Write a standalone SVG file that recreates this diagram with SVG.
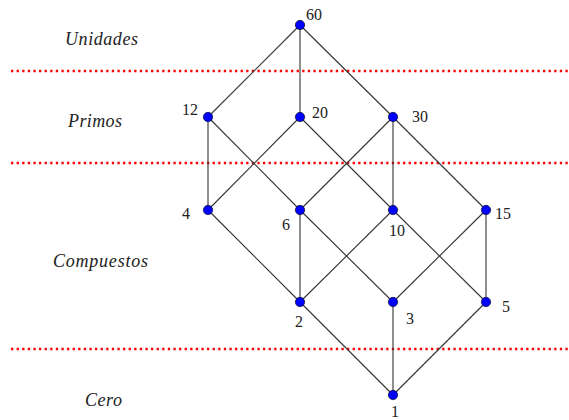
<svg xmlns="http://www.w3.org/2000/svg" width="569" height="420" viewBox="0 0 569 420">
<style>
.sep{stroke:#ff0000;stroke-width:2.3;stroke-dasharray:2.3 3.3;fill:none}
.e{stroke:#333;stroke-width:1.1;fill:none}
.n{fill:#0000ff;stroke:#000;stroke-width:0.6}
.lab{font-family:"Liberation Serif","Times New Roman",serif;font-size:16px;fill:#222}
.cat{font-family:"Liberation Serif","Times New Roman",serif;font-style:italic;font-size:18px;fill:#222}
</style>
<rect width="569" height="420" fill="#fff"/>
<g id="separators">
<line class="sep" x1="11" y1="71" x2="569" y2="71"/>
<line class="sep" x1="11" y1="163" x2="569" y2="163"/>
<line class="sep" x1="11" y1="349" x2="569" y2="349"/>
</g>
<g id="categories">
<text class="cat" x="65" y="45" textLength="73" lengthAdjust="spacing">Unidades</text>
<text class="cat" x="68" y="127" textLength="54" lengthAdjust="spacing">Primos</text>
<text class="cat" x="53" y="267" textLength="95" lengthAdjust="spacing">Compuestos</text>
<text class="cat" x="85" y="406" textLength="37" lengthAdjust="spacing">Cero</text>
</g>
<g id="connectors">
<line class="e" x1="300" y1="25" x2="208" y2="117"/>
<line class="e" x1="300" y1="25" x2="300" y2="117"/>
<line class="e" x1="300" y1="25" x2="393" y2="117"/>
<line class="e" x1="208" y1="117" x2="208" y2="210"/>
<line class="e" x1="208" y1="117" x2="300" y2="210"/>
<line class="e" x1="300" y1="117" x2="208" y2="210"/>
<line class="e" x1="300" y1="117" x2="393" y2="210"/>
<line class="e" x1="393" y1="117" x2="300" y2="210"/>
<line class="e" x1="393" y1="117" x2="393" y2="210"/>
<line class="e" x1="393" y1="117" x2="486" y2="210"/>
<line class="e" x1="208" y1="210" x2="300" y2="302"/>
<line class="e" x1="300" y1="210" x2="300" y2="302"/>
<line class="e" x1="300" y1="210" x2="393" y2="302"/>
<line class="e" x1="393" y1="210" x2="300" y2="302"/>
<line class="e" x1="393" y1="210" x2="486" y2="302"/>
<line class="e" x1="486" y1="210" x2="393" y2="302"/>
<line class="e" x1="486" y1="210" x2="486" y2="302"/>
<line class="e" x1="300" y1="302" x2="393" y2="395"/>
<line class="e" x1="393" y1="302" x2="393" y2="395"/>
<line class="e" x1="486" y1="302" x2="393" y2="395"/>
</g>
<g id="n60"><circle class="n" cx="300" cy="25" r="4.7"/><text class="lab" x="306" y="20">60</text></g>
<g id="n12"><circle class="n" cx="208" cy="117" r="4.7"/><text class="lab" x="182" y="115">12</text></g>
<g id="n20"><circle class="n" cx="300" cy="117" r="4.7"/><text class="lab" x="312" y="118">20</text></g>
<g id="n30"><circle class="n" cx="393" cy="117" r="4.7"/><text class="lab" x="412" y="122">30</text></g>
<g id="n4"><circle class="n" cx="208" cy="210" r="4.7"/><text class="lab" x="182" y="219">4</text></g>
<g id="n6"><circle class="n" cx="300" cy="210" r="4.7"/><text class="lab" x="282" y="230">6</text></g>
<g id="n10"><circle class="n" cx="393" cy="210" r="4.7"/><text class="lab" x="389" y="236">10</text></g>
<g id="n15"><circle class="n" cx="486" cy="210" r="4.7"/><text class="lab" x="495" y="219">15</text></g>
<g id="n2"><circle class="n" cx="300" cy="302" r="4.7"/><text class="lab" x="295" y="327">2</text></g>
<g id="n3"><circle class="n" cx="393" cy="302" r="4.7"/><text class="lab" x="406" y="324">3</text></g>
<g id="n5"><circle class="n" cx="486" cy="302" r="4.7"/><text class="lab" x="502" y="312">5</text></g>
<g id="n1"><circle class="n" cx="393" cy="395" r="4.7"/><text class="lab" x="391" y="417">1</text></g>
</svg>
